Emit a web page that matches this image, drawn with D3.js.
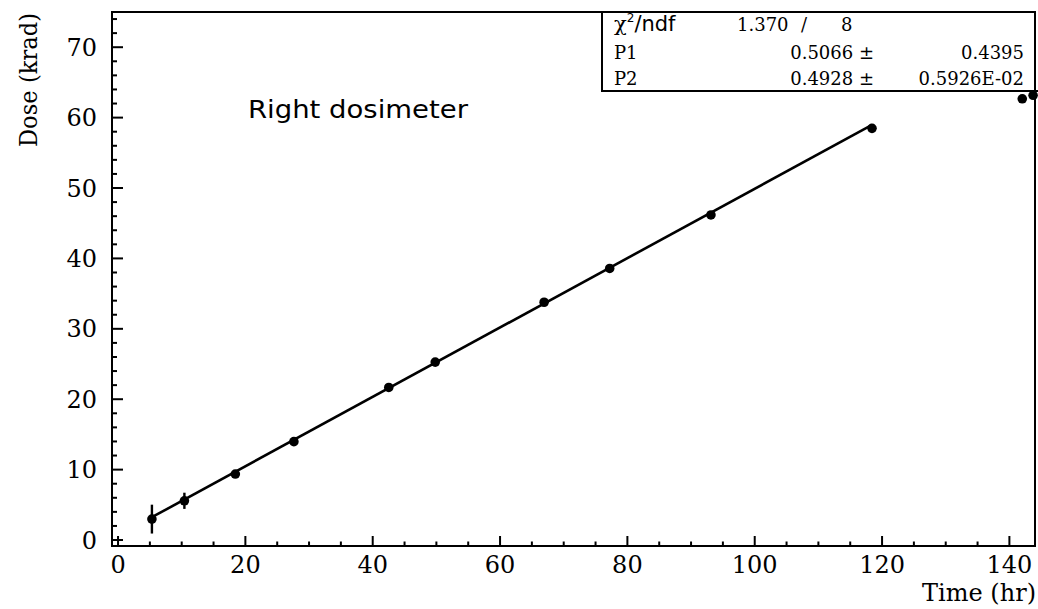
<!DOCTYPE html>
<html>
<head>
<meta charset="utf-8">
<script src="https://cdn.jsdelivr.net/npm/d3@7"></script>
<style>
  html, body { margin: 0; padding: 0; background: #fff; }
  svg { display: block; }
</style>
</head>
<body>
<svg id="chart" width="1038" height="609"></svg>
<script>
// Irradiation time (hr) and accumulated dose (krad) for the right dosimeter
const timeHr   = [5.4, 10.5, 18.5, 27.7, 42.6, 49.9, 67.0, 77.3, 93.2, 118.5, 142.1, 143.8];
const doseKrad = [2.9, 5.5, 9.3, 13.9, 21.6, 25.2, 33.7, 38.5, 46.1, 58.4, 62.6, 63.1];
const doseErr  = [2.05, 1.15, 0.5, 0, 0, 0, 0, 0, 0, 0, 0, 0];
const fittedCount = 10;   // the first ten points enter the straight-line fit

// Linear fit parameters: dose = P1 + P2 * time
const fitP1 = 0.5066, fitP1Err = 0.4395;
const fitP2 = 0.4928, fitP2Err = "0.5926E-02";
const chi2 = "1.370", ndf = "8";

const xTicksMajor = [0, 20, 40, 60, 80, 100, 120, 140];
const yTicksMajor = [0, 10, 20, 30, 40, 50, 60, 70];

const svg = d3.select("#chart");
const frame = { left: 112, right: 1035, top: 12, bottom: 546 };

const x = d3.scaleLinear().domain([-0.87, 144.1]).range([frame.left, frame.right]);
const y = d3.scaleLinear().domain([-0.92, 74.93]).range([frame.bottom, frame.top]);

const serif = "'DejaVu Serif', serif";
const sans = "'DejaVu Sans', sans-serif";

// minor ticks
const xMinor = d3.range(0, 145, 5).filter(v => v % 20 !== 0);
const yMinor = d3.range(0, 75, 2).filter(v => v % 10 !== 0);

const gx = svg.append("g").attr("transform", `translate(0,${frame.bottom})`);
gx.call(d3.axisBottom(x).tickValues(xTicksMajor).tickSize(-10).tickPadding(10).tickFormat(d3.format("d")));
const gxm = svg.append("g").attr("transform", `translate(0,${frame.bottom})`);
gxm.call(d3.axisBottom(x).tickValues(xMinor).tickSize(-4.5).tickFormat(""));

const gy = svg.append("g").attr("transform", `translate(${frame.left},0)`);
gy.call(d3.axisLeft(y).tickValues(yTicksMajor).tickSize(-11).tickPadding(15).tickFormat(d3.format("d")));
const gym = svg.append("g").attr("transform", `translate(${frame.left},0)`);
gym.call(d3.axisLeft(y).tickValues(yMinor).tickSize(-5).tickFormat(""));

svg.selectAll(".domain").remove();
svg.selectAll(".tick line").attr("stroke", "#000").attr("stroke-width", 2);
gx.selectAll(".tick text").attr("font-family", serif).attr("font-size", 24).attr("fill", "#000").attr("dy", "0.72em");
gy.selectAll(".tick text").attr("font-family", serif).attr("font-size", 24).attr("fill", "#000").attr("dy", "0.36em");

// plot frame
svg.append("rect")
  .attr("x", frame.left).attr("y", frame.top)
  .attr("width", frame.right - frame.left).attr("height", frame.bottom - frame.top)
  .attr("fill", "none").attr("stroke", "#000").attr("stroke-width", 2);

// fit line over the range of the fitted points
const fitted = timeHr.slice(0, fittedCount);
const fitLine = d3.line().x(d => x(d)).y(d => y(fitP1 + fitP2 * d));
svg.append("path")
  .datum(d3.extent(fitted))
  .attr("d", fitLine)
  .attr("fill", "none").attr("stroke", "#000").attr("stroke-width", 2.6);

// data points with error bars
const pts = timeHr.map((t, i) => ({ t, d: doseKrad[i], e: doseErr[i] }));
svg.append("g").selectAll("line").data(pts.filter(p => p.e > 0)).join("line")
  .attr("x1", p => x(p.t)).attr("x2", p => x(p.t))
  .attr("y1", p => y(p.d - p.e)).attr("y2", p => y(p.d + p.e))
  .attr("stroke", "#000").attr("stroke-width", 2.4);
svg.append("g").selectAll("circle").data(pts).join("circle")
  .attr("cx", p => x(p.t)).attr("cy", p => y(p.d)).attr("r", 4.8)
  .attr("fill", "#000");

// statistics box
svg.append("path")
  .attr("d", `M602,${frame.top} L602,91 L1038,91`)
  .attr("fill", "none").attr("stroke", "#000").attr("stroke-width", 2);

const stats = svg.append("g").attr("fill", "#000");
const row1 = 31, row2 = 59, row3 = 85;
const chiLabel = stats.append("text").attr("x", 614).attr("y", row1)
  .attr("font-family", sans).attr("font-size", 21);
chiLabel.append("tspan").attr("font-family", serif).text("χ");
chiLabel.append("tspan").attr("font-size", 12).attr("dy", -9).text("2");
chiLabel.append("tspan").attr("dy", 9).text("/ndf");
stats.append("text").attr("x", 737).attr("y", row1).attr("font-family", serif).attr("font-size", 18).text(chi2);
stats.append("text").attr("x", 801).attr("y", row1).attr("font-family", serif).attr("font-size", 18).text("/");
stats.append("text").attr("x", 841).attr("y", row1).attr("font-family", serif).attr("font-size", 18).text(ndf);

stats.append("text").attr("x", 614).attr("y", row2).attr("font-family", serif).attr("font-size", 18).text("P1");
stats.append("text").attr("x", 874).attr("y", row2).attr("text-anchor", "end").attr("font-family", serif).attr("font-size", 18).text(fitP1.toFixed(4) + " ±");
stats.append("text").attr("x", 1024).attr("y", row2).attr("text-anchor", "end").attr("font-family", serif).attr("font-size", 18).text(fitP1Err.toFixed(4));

stats.append("text").attr("x", 614).attr("y", row3).attr("font-family", serif).attr("font-size", 18).text("P2");
stats.append("text").attr("x", 874).attr("y", row3).attr("text-anchor", "end").attr("font-family", serif).attr("font-size", 18).text(fitP2.toFixed(4) + " ±");
stats.append("text").attr("x", 1024).attr("y", row3).attr("text-anchor", "end").attr("font-family", serif).attr("font-size", 18).text(fitP2Err);

// annotation
svg.append("text").attr("x", 248).attr("y", 118)
  .attr("font-family", sans).attr("font-size", 25)
  .attr("textLength", 220).attr("lengthAdjust", "spacingAndGlyphs")
  .text("Right dosimeter");

// axis titles
svg.append("text")
  .attr("transform", "translate(37,80) rotate(-90)")
  .attr("text-anchor", "middle")
  .attr("font-family", serif).attr("font-size", 25)
  .attr("textLength", 134).attr("lengthAdjust", "spacingAndGlyphs")
  .text("Dose (krad)");
svg.append("text")
  .attr("x", 1036).attr("y", 601).attr("text-anchor", "end")
  .attr("font-family", serif).attr("font-size", 24)
  .text("Time (hr)");
</script>
</body>
</html>
